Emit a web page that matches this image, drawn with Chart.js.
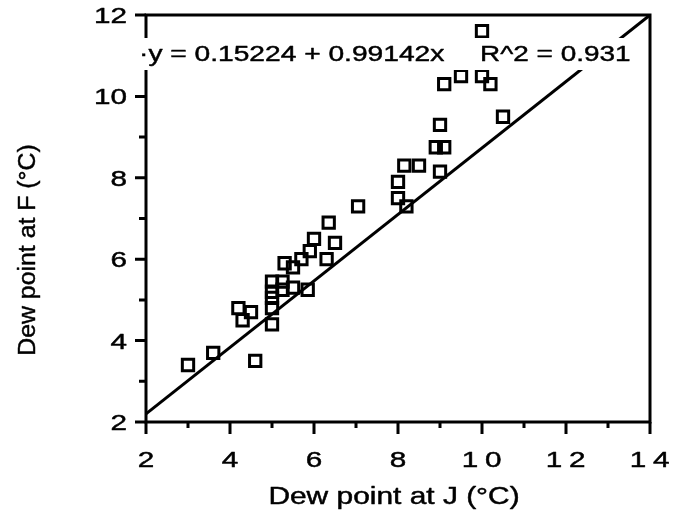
<!DOCTYPE html>
<html>
<head>
<meta charset="utf-8">
<script src="https://cdn.jsdelivr.net/npm/chart.js@4"></script>
<style>
  html, body { margin: 0; padding: 0; background: #fff; }
  #wrap { width: 683px; height: 513px; }
</style>
</head>
<body>
<div id="wrap"><canvas id="c" width="683" height="513"></canvas></div>
<script>
// ---- data ----
const dewJ = [3.0, 3.6, 4.6, 4.2, 4.3, 4.5, 5.0, 5.0, 5.0, 5.0, 5.0, 5.25, 5.25, 5.3, 5.5, 5.5, 5.7, 5.85, 5.9, 6.0, 6.35, 6.3, 6.5, 7.05, 8.0, 8.0, 8.2, 8.15, 8.5, 9.0, 8.9, 9.1, 9.0, 9.1, 9.5, 10.0, 10.2, 10.0, 10.5];
const dewF = [3.4, 3.7, 3.5, 4.8, 4.5, 4.7, 4.8, 4.4, 5.45, 5.2, 5.05, 5.45, 5.25, 5.9, 5.8, 5.3, 6.0, 5.25, 6.2, 6.5, 6.9, 6.0, 6.4, 7.3, 7.9, 7.5, 7.3, 8.3, 8.3, 8.15, 8.75, 8.75, 9.3, 10.3, 10.5, 10.5, 10.3, 11.6, 9.5];
const fitX = [2, 14];
const fitY = [2.2, 12];
const xTickLabels = ['2', '4', '6', '8', '10', '12', '14'];
const yTickLabels = ['2', '4', '6', '8', '10', '12'];
const xTitle = 'Dew point at J (°C)';
const yTitle = 'Dew point at F (°C)';
const eqLeft = '·y = 0.15224 + 0.99142x';
const eqRight = 'R^2 = 0.931';

const FONT = '"Liberation Sans", Arial, Helvetica, sans-serif';

function sText(ctx, text, x, y, sx, align, spacing) {
  ctx.save();
  ctx.translate(x, y);
  ctx.scale(sx, 1);
  ctx.textAlign = align;
  ctx.textBaseline = 'alphabetic';
  if (spacing) { try { ctx.letterSpacing = spacing + 'px'; } catch (e) {} }
  ctx.lineWidth = 0.45;
  ctx.lineJoin = 'round';
  ctx.strokeText(text, 0, 0);
  ctx.fillText(text, 0, 0);
  ctx.restore();
}

const decor = {
  id: 'decor',
  afterDraw(chart) {
    const ctx = chart.ctx;
    const a = chart.chartArea;
    const xs = chart.scales.x, ys = chart.scales.y;
    ctx.save();
    ctx.strokeStyle = '#000';
    ctx.fillStyle = '#000';
    ctx.lineWidth = 3;
    ctx.lineCap = 'butt';
    // frame
    ctx.strokeRect(a.left, a.top, a.right - a.left, a.bottom - a.top);
    // ticks
    ctx.beginPath();
    for (let v = 2; v <= 14; v++) {
      const px = xs.getPixelForValue(v);
      const len = v % 2 === 0 ? 12 : 6;
      ctx.moveTo(px, a.bottom);
      ctx.lineTo(px, a.bottom + len);
    }
    for (let v = 2; v <= 12; v++) {
      const py = ys.getPixelForValue(v);
      const len = v % 2 === 0 ? 11 : 7;
      ctx.moveTo(a.left, py);
      ctx.lineTo(a.left - len, py);
    }
    ctx.stroke();
    // tick labels
    ctx.font = '22px ' + FONT;
    xTickLabels.forEach(t => {
      const sp = t.length > 1 ? 5 : 0;
      sText(ctx, t, xs.getPixelForValue(Number(t)) + sp * 0.6, 467, 1.35, 'center', sp);
    });
    yTickLabels.forEach(t => {
      sText(ctx, t, 127, ys.getPixelForValue(Number(t)) + 8, 1.35, 'right', 0);
    });
    // axis titles
    ctx.font = '23px ' + FONT;
    sText(ctx, xTitle, 394, 504, 1.3, 'center', 0);
    ctx.save();
    ctx.translate(35, 250);
    ctx.rotate(-Math.PI / 2);
    sText(ctx, yTitle, 0, 0, 1.08, 'center', 0);
    ctx.restore();
    // equation box
    ctx.fillStyle = '#fff';
    ctx.fillRect(137, 38, 500, 32);
    ctx.fillStyle = '#000';
    ctx.font = '22px ' + FONT;
    sText(ctx, eqLeft, 139, 61, 1.28, 'left', 0);
    sText(ctx, eqRight, 480, 61, 1.27, 'left', 0);
    ctx.restore();
  }
};

new Chart(document.getElementById('c'), {
  type: 'scatter',
  data: {
    datasets: [
      {
        label: 'fit',
        data: fitX.map((x, i) => ({ x: x, y: fitY[i] })),
        showLine: true,
        borderColor: '#000',
        borderWidth: 3,
        pointRadius: 0,
        fill: false,
        order: 2
      },
      {
        label: 'obs',
        data: dewJ.map((x, i) => ({ x: x, y: dewF[i] })),
        pointStyle: 'rect',
        pointRadius: 8,
        pointHoverRadius: 8,
        borderColor: '#000',
        backgroundColor: 'rgba(0,0,0,0)',
        pointBorderWidth: 3,
        borderWidth: 3,
        order: 1
      }
    ]
  },
  options: {
    responsive: false,
    animation: false,
    devicePixelRatio: 1,
    layout: { padding: { left: 0, top: 15, right: 33, bottom: 0 } },
    plugins: { legend: { display: false }, tooltip: { enabled: false }, title: { display: false } },
    scales: {
      x: {
        type: 'linear', min: 2, max: 14,
        grid: { display: false }, border: { display: false },
        ticks: { display: false, stepSize: 2 },
        title: { display: false, text: xTitle },
        afterFit(s) { s.height = 91; }
      },
      y: {
        type: 'linear', min: 2, max: 12,
        grid: { display: false }, border: { display: false },
        ticks: { display: false, stepSize: 2 },
        title: { display: false, text: yTitle },
        afterFit(s) { s.width = 146; }
      }
    }
  },
  plugins: [decor]
});
</script>
</body>
</html>
